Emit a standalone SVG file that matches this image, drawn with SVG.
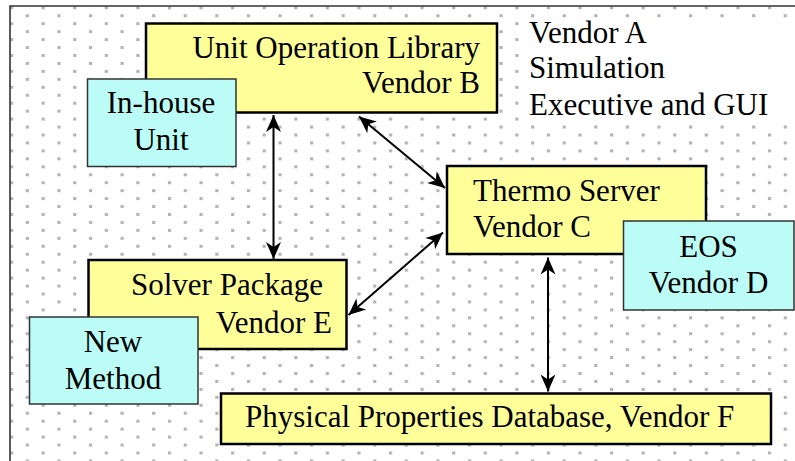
<svg xmlns="http://www.w3.org/2000/svg" width="795" height="461" viewBox="0 0 795 461">
  <defs>
    <pattern id="dots" patternUnits="userSpaceOnUse" x="10" y="6.3" width="31.58" height="15.9">
      <rect x="0" y="0" width="3.2" height="3" fill="#b3b3b3"/>
      <rect x="15.79" y="7.95" width="3.2" height="3" fill="#b3b3b3"/>
    </pattern>
    <marker id="ah" viewBox="-18 -8 19 16" refX="0" refY="0" markerWidth="19" markerHeight="16" markerUnits="userSpaceOnUse" orient="auto-start-reverse">
      <path d="M0,0 L-17,-7.5 L-12,0 L-17,7.5 Z" fill="#000"/>
    </marker>
    <style>
      .yel { fill: #ffff99; stroke: #000; stroke-width: 2.5; }
      .cyan { fill: #bcfcf6; stroke: #333; stroke-width: 1.5; }
      text { font-family: 'Liberation Serif', serif; font-size: 31px; fill: #000; }
      .mid { text-anchor: middle; }
      .end { text-anchor: end; }
      .conn { stroke: #000; stroke-width: 2; fill: none; marker-start: url(#ah); marker-end: url(#ah); }
    </style>
  </defs>

  <rect x="0" y="0" width="795" height="461" fill="#fff"/>
  <rect x="10" y="6" width="785" height="455" fill="url(#dots)"/>
  <path d="M10,461 L10,6 L795,6" fill="none" stroke="#333" stroke-width="1.6"/>

  <g id="vendorA">
    <rect x="520" y="19" width="275" height="103" fill="#fff"/>
    <text x="529" y="43">Vendor A</text>
    <text x="529" y="78">Simulation</text>
    <text x="529" y="115">Executive and GUI</text>
  </g>

  <g id="unitOpLibrary">
    <rect class="yel" x="146" y="23.5" width="351" height="89"/>
    <text class="end" x="480" y="58">Unit Operation Library</text>
    <text class="end" x="480" y="93">Vendor B</text>
  </g>

  <g id="inHouseUnit">
    <rect class="cyan" x="87.5" y="79" width="148.5" height="87.5"/>
    <text class="mid" x="161" y="113">In-house</text>
    <text class="mid" x="161" y="150">Unit</text>
  </g>

  <g id="thermoServer">
    <rect class="yel" x="447" y="166" width="259" height="88"/>
    <text x="473" y="201">Thermo Server</text>
    <text x="473" y="237">Vendor C</text>
  </g>

  <g id="eos">
    <rect class="cyan" x="623.5" y="221" width="170.5" height="89"/>
    <text class="mid" x="708.5" y="257">EOS</text>
    <text class="mid" x="708.5" y="293">Vendor D</text>
  </g>

  <g id="solverPackage">
    <rect class="yel" x="88.5" y="260" width="258" height="89"/>
    <text x="131" y="295">Solver Package</text>
    <text class="end" x="332" y="333">Vendor E</text>
  </g>

  <g id="newMethod">
    <rect class="cyan" x="29.5" y="317" width="168.5" height="87"/>
    <text class="mid" x="113" y="352">New</text>
    <text class="mid" x="113" y="389">Method</text>
  </g>

  <g id="physPropDB">
    <rect class="yel" x="221" y="393.5" width="550" height="50.5"/>
    <text x="245" y="427">Physical Properties Database, Vendor F</text>
  </g>

  <g id="connectors">
    <line class="conn" x1="273.5" y1="115" x2="273.5" y2="259"/>
    <line class="conn" x1="359" y1="116.5" x2="445" y2="188"/>
    <line class="conn" x1="348.5" y1="315" x2="443" y2="232.5"/>
    <line class="conn" x1="548" y1="257.5" x2="548" y2="391.5"/>
  </g>
</svg>
